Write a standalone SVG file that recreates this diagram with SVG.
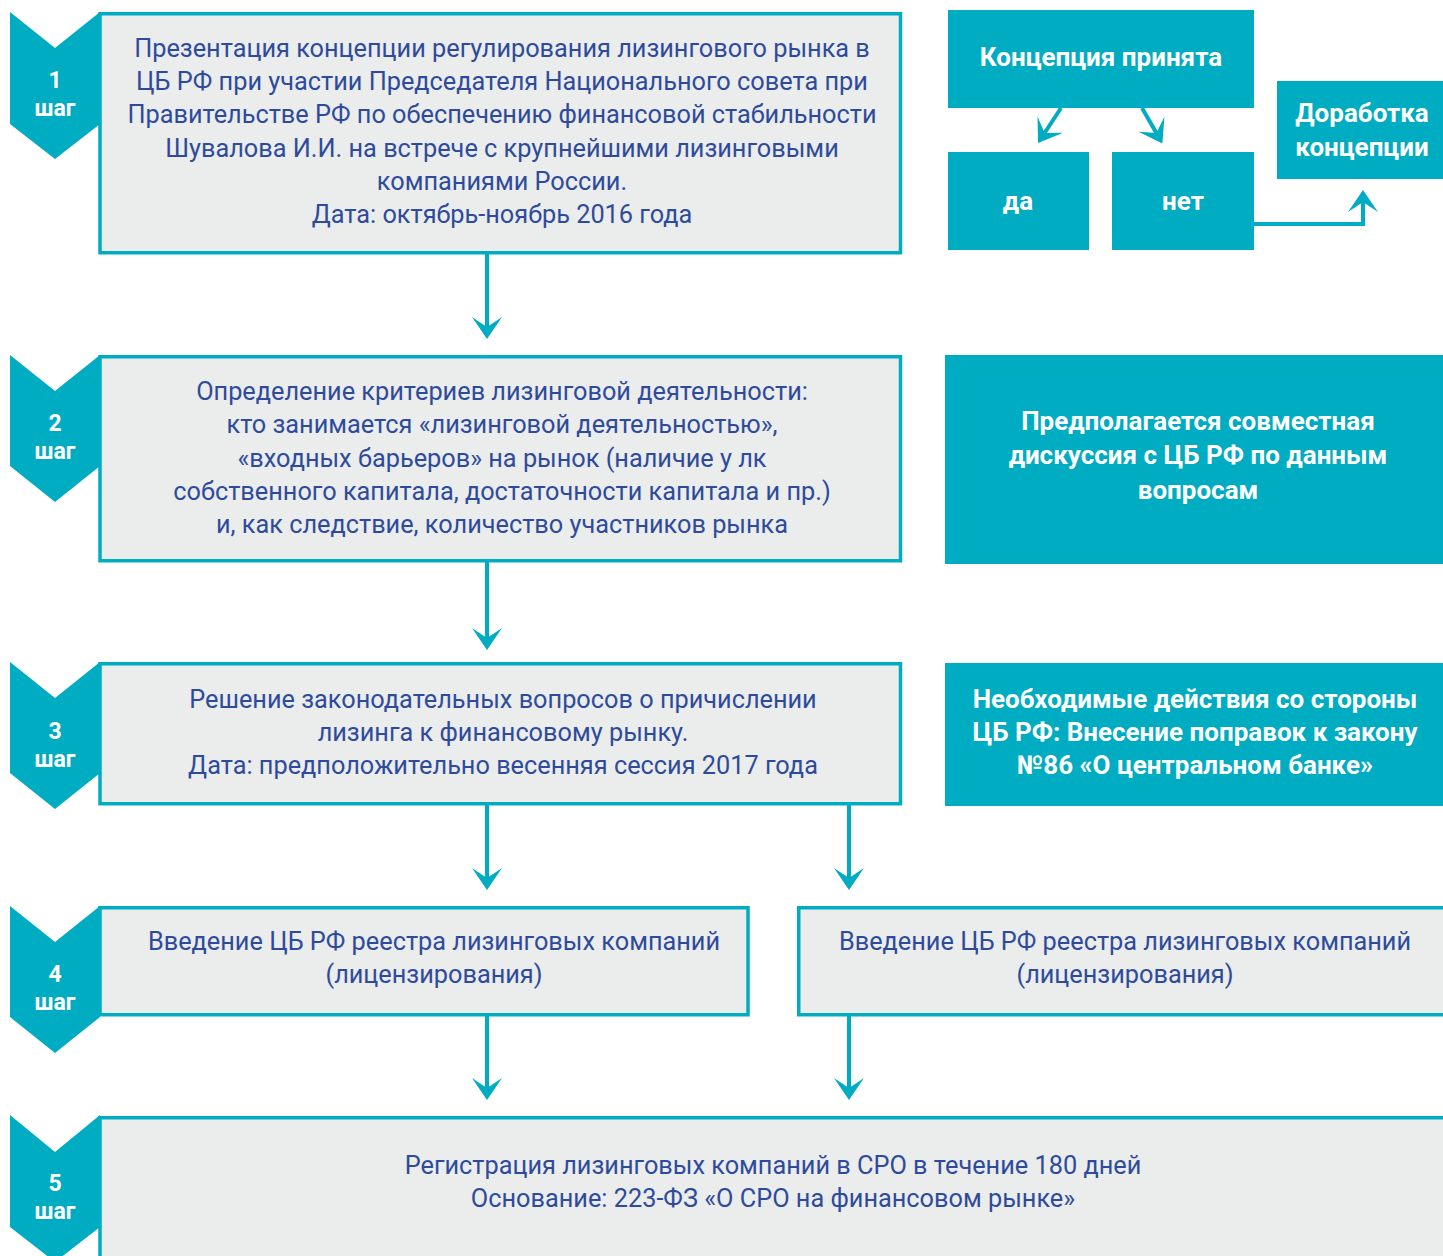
<svg xmlns="http://www.w3.org/2000/svg" width="1443" height="1256" viewBox="0 0 1443 1256">
<style>
.box{fill:#EBECEC;stroke:#00ACC1;stroke-width:3.5}
.tbox{fill:#00ACC1}
.chev{fill:#00ACC1}
.t{font-family:Roboto,"Noto Sans","DejaVu Sans",sans-serif;font-size:25.3px;fill:#2E4B9B;text-anchor:middle}
.w{font-family:Roboto,"Noto Sans","DejaVu Sans",sans-serif;font-size:26px;font-weight:bold;fill:#FFFFFF;text-anchor:middle}
.s{font-family:Roboto,"Noto Sans","DejaVu Sans",sans-serif;font-size:23px;font-weight:bold;fill:#FFFFFF;text-anchor:middle}
.c{fill:none;stroke:#00ACC1;stroke-width:4}
</style>
<defs>
<marker id="ah" viewBox="0 0 22 30" markerWidth="22" markerHeight="30" refX="10" refY="15" orient="auto" markerUnits="userSpaceOnUse">
<path d="M0,0 L22,15 L0,30 L10,15 Z" fill="#00ACC1"/>
</marker>
</defs>

<g id="step1">
<path class="chev" d="M10,12 L55,48 L100,12 L100,124 L55,159 L10,124 Z"/>
<text class="s" x="55" y="88">1</text>
<text class="s" x="55" y="116">шаг</text>
<rect class="box" x="100" y="13.75" width="800.5" height="239"/>
<text class="t" x="502" y="57">Презентация концепции регулирования лизингового рынка в</text>
<text class="t" x="502" y="90">ЦБ РФ при участии Председателя Национального совета при</text>
<text class="t" x="502" y="123">Правительстве РФ по обеспечению финансовой стабильности</text>
<text class="t" x="502" y="157">Шувалова И.И. на встрече с крупнейшими лизинговыми</text>
<text class="t" x="502" y="190">компаниями России.</text>
<text class="t" x="502" y="223">Дата: октябрь-ноябрь 2016 года</text>
</g>

<g id="concept">
<rect class="tbox" x="948" y="10" width="306" height="98"/>
<text class="w" x="1101" y="66">Концепция принята</text>
</g>
<g id="yes">
<rect class="tbox" x="948" y="152" width="141" height="98"/>
<text class="w" x="1018" y="210">да</text>
</g>
<g id="no">
<rect class="tbox" x="1112" y="152" width="142" height="98"/>
<text class="w" x="1183" y="210">нет</text>
</g>
<g id="rework">
<rect class="tbox" x="1277" y="81" width="166" height="98"/>
<text class="w" x="1362" y="122">Доработка</text>
<text class="w" x="1362" y="156">концепции</text>
</g>

<g id="step2">
<path class="chev" d="M10,355 L55,391 L100,355 L100,466 L55,502 L10,466 Z"/>
<text class="s" x="55" y="431">2</text>
<text class="s" x="55" y="459">шаг</text>
<rect class="box" x="100" y="356.75" width="800.5" height="204"/>
<text class="t" x="502" y="400">Определение критериев лизинговой деятельности:</text>
<text class="t" x="502" y="433">кто занимается «лизинговой деятельностью»,</text>
<text class="t" x="502" y="467">«входных барьеров» на рынок (наличие у лк</text>
<text class="t" x="502" y="500">собственного капитала, достаточности капитала и пр.)</text>
<text class="t" x="502" y="533">и, как следствие, количество участников рынка</text>
</g>

<g id="discussion">
<rect class="tbox" x="945" y="355" width="498" height="209"/>
<text class="w" x="1198" y="430">Предполагается совместная</text>
<text class="w" x="1198" y="464">дискуссия с ЦБ РФ по данным</text>
<text class="w" x="1198" y="499">вопросам</text>
</g>

<g id="step3">
<path class="chev" d="M10,662 L55,698 L100,662 L100,773 L55,809 L10,773 Z"/>
<text class="s" x="55" y="739">3</text>
<text class="s" x="55" y="767">шаг</text>
<rect class="box" x="100" y="663.75" width="800.5" height="140"/>
<text class="t" x="503" y="708">Решение законодательных вопросов о причислении</text>
<text class="t" x="503" y="741">лизинга к финансовому рынку.</text>
<text class="t" x="503" y="774">Дата: предположительно весенняя сессия 2017 года</text>
</g>

<g id="cbactions">
<rect class="tbox" x="945" y="663" width="498" height="143"/>
<text class="w" x="1195" y="708">Необходимые действия со стороны</text>
<text class="w" x="1195" y="741">ЦБ РФ: Внесение поправок к закону</text>
<text class="w" x="1195" y="774">№86 «О центральном банке»</text>
</g>

<g id="step4">
<path class="chev" d="M10,906 L55,942 L100,906 L100,1017 L55,1053 L10,1017 Z"/>
<text class="s" x="55" y="982">4</text>
<text class="s" x="55" y="1010">шаг</text>
<rect class="box" x="100" y="907.75" width="648" height="107"/>
<text class="t" x="434" y="950">Введение ЦБ РФ реестра лизинговых компаний</text>
<text class="t" x="434" y="983">(лицензирования)</text>
</g>

<g id="step4b">
<rect class="box" x="798.75" y="907.75" width="650" height="107"/>
<text class="t" x="1125" y="950">Введение ЦБ РФ реестра лизинговых компаний</text>
<text class="t" x="1125" y="983">(лицензирования)</text>
</g>

<g id="step5">
<path class="chev" d="M10,1115 L55,1152 L100,1115 L100,1227 L55,1262 L10,1227 Z"/>
<text class="s" x="55" y="1191">5</text>
<text class="s" x="55" y="1219">шаг</text>
<rect class="box" x="100" y="1117.75" width="1350" height="150"/>
<text class="t" x="773" y="1174">Регистрация лизинговых компаний в СРО в течение 180 дней</text>
<text class="t" x="773" y="1207">Основание: 223-ФЗ «О СРО на финансовом рынке»</text>
</g>

<g id="connectors">
<path class="c" d="M487,254 L487,327" marker-end="url(#ah)"/>
<path class="c" d="M487,562 L487,638" marker-end="url(#ah)"/>
<path class="c" d="M487,805 L487,878" marker-end="url(#ah)"/>
<path class="c" d="M849,805 L849,878" marker-end="url(#ah)"/>
<path class="c" d="M487,1016 L487,1088" marker-end="url(#ah)"/>
<path class="c" d="M849,1016 L849,1088" marker-end="url(#ah)"/>
<path class="c" d="M1061,108 L1044.6,133" marker-end="url(#ah)"/>
<path class="c" d="M1142,108 L1156.4,133" marker-end="url(#ah)"/>
<path class="c" d="M1254,224 L1363,224 L1363,202" marker-end="url(#ah)"/>
</g>
</svg>
